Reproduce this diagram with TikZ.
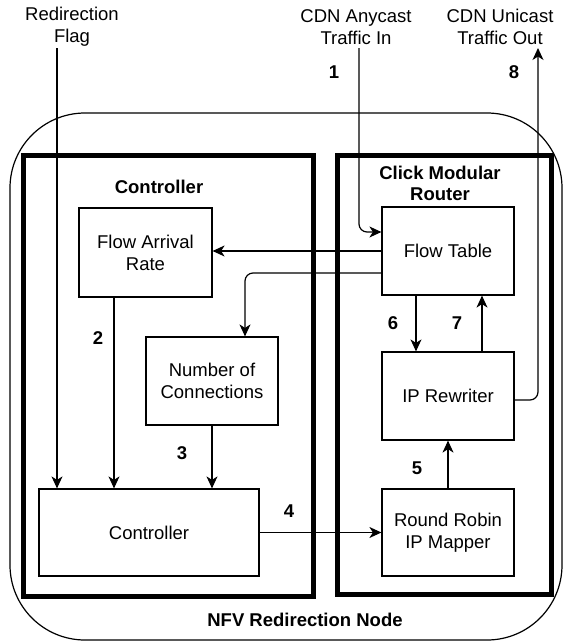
\documentclass[tikz,border=0pt]{standalone}
\usepackage{fontspec}
\setmainfont{Liberation Sans}
\usetikzlibrary{arrows.meta}
\begin{document}
\begin{tikzpicture}[x=1pt,y=-1pt,
  font=\fontsize{18.5}{22}\selectfont,
  box/.style={draw, line width=1.2pt, align=center, inner sep=0pt},
  group/.style={draw, line width=5pt, inner sep=0pt},
  lbl/.style={align=center, inner sep=0pt},
  title/.style={align=center, inner sep=0pt, font=\fontsize{18.5}{21}\selectfont\bfseries},
  num/.style={inner sep=0pt, font=\fontsize{18.5}{22}\selectfont\bfseries},
  arr/.style={line width=1.2pt, -{Stealth[length=12pt,width=11pt,inset=3.5pt]}},
  wire/.style={line width=1.2pt}]
\useasboundingbox (0,0) rectangle (564,643);

% outer node boundary
\node[draw, line width=1.2pt, minimum width=552pt, minimum height=527pt,
      rounded corners=75pt, inner sep=0pt] (nfv) at (286,376.5) {};
\node[title] (nfvt) at (305,620) {NFV Redirection Node};

% the two functional groups
\node[group, minimum width=290pt, minimum height=441pt] (cgrp) at (168.5,375.5) {};
\node[group, minimum width=214pt, minimum height=439pt] (kgrp) at (444,375) {};
\node[title] (cgrpt) at (159,187) {Controller};
\node[title] (kgrpt) at (440,183) {Click Modular\\Router};

% controller side blocks
\node[box, minimum width=133pt, minimum height=89pt] (far) at (145.5,252.5) {Flow Arrival\\Rate};
\node[box, minimum width=132pt, minimum height=88pt] (noc) at (212,381) {Number of\\Connections};
\node[box, minimum width=220pt, minimum height=87pt] (ctrl) at (149,532.5) {Controller};

% click router blocks
\node[box, minimum width=132pt, minimum height=88pt] (ft) at (448,251) {Flow Table};
\node[box, minimum width=132pt, minimum height=88pt] (ipr) at (448,396) {IP Rewriter};
\node[box, minimum width=132pt, minimum height=87pt] (rr) at (448,532.5) {Round Robin\\IP Mapper};

% external labels
\node[lbl] (rf) at (72,27) {Redirection\\Flag};
\node[lbl] (cin) at (356,27) {CDN Anycast\\Traffic In};
\node[lbl] (cout) at (500,27) {CDN Unicast\\Traffic Out};
\coordinate (rfin) at (57,48);
\coordinate (cdnin) at (359,48);
\coordinate (cdnout) at (538,48);

% step numbers
\node[num] (n1) at (334,72) {1};
\node[num] (n2) at (98,338) {2};
\node[num] (n3) at (182,453) {3};
\node[num] (n4) at (289,511) {4};
\node[num] (n5) at (417,468) {5};
\node[num] (n6) at (393,323) {6};
\node[num] (n7) at (457,323) {7};
\node[num] (n8) at (514,72) {8};

% connectors
\draw[arr] (rfin) -- (rfin |- ctrl.north);
\draw[arr, rounded corners=8pt] (cdnin) |- ([yshift=19pt]ft.west);
\draw[arr] (ft.west) -- (ft.west -| far.east);
\draw[arr, rounded corners=8pt] ([yshift=-22pt]ft.west) -| ([xshift=33pt]noc.north);
\coordinate (farout) at ([xshift=-31.5pt]far.south);
\draw[arr] (farout) -- (farout |- ctrl.north);
\draw[arr] (noc.south) -- (noc.south |- ctrl.north);
\draw[arr] (ctrl.east) -- (rr.west);
\draw[arr] (rr.north) -- (ipr.south);
\coordinate (ftdown) at ([xshift=-32pt]ft.south);
\draw[arr] (ftdown) -- (ftdown |- ipr.north);
\coordinate (ipup) at ([xshift=34pt]ipr.north);
\draw[arr] (ipup) -- (ipup |- ft.south);
\draw[arr, rounded corners=8pt] ([yshift=-4pt]ipr.east) -| (cdnout);
\end{tikzpicture}
\end{document}
